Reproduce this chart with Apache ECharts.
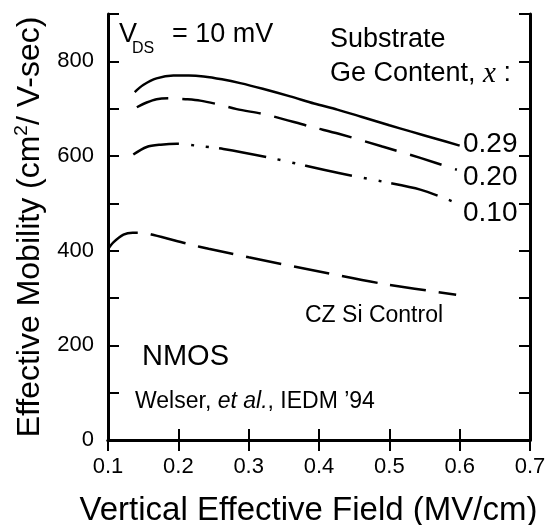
<!DOCTYPE html>
<html>
<head>
<meta charset="utf-8">
<script src="https://cdn.jsdelivr.net/npm/echarts@6/dist/echarts.min.js"></script>
<style>
  html, body { margin: 0; padding: 0; background: #fff; }
  #main { width: 546px; height: 525px; }
</style>
</head>
<body>
<div id="main"></div>
<script>
// tick labels
const xTickLabels = ["0.1", "0.2", "0.3", "0.4", "0.5", "0.6", "0.7"]
const yTickLabels = ["0", "200", "400", "600", "800"]

// x = 0.29 (solid)
const field029 = [0.138, 0.150, 0.169, 0.193, 0.215, 0.236, 0.262, 0.288, 0.320, 0.359, 0.393, 0.426, 0.460, 0.500, 0.530, 0.565, 0.600]
const mob029 = [735, 750, 764, 770, 770, 768, 762, 754, 742, 726, 711, 698, 683, 665, 652, 637, 622]

// x = 0.20 (dashed)
const field020 = [0.141, 0.155, 0.169, 0.188, 0.210, 0.231, 0.257, 0.283, 0.326, 0.388, 0.428, 0.490, 0.544, 0.596]
const mob020 = [703, 713, 720, 722, 720, 717, 709, 699, 687, 662, 647, 620, 596, 571]

// x = 0.10 (dash-dot)
const field010 = [0.136, 0.155, 0.175, 0.198, 0.225, 0.264, 0.331, 0.428, 0.490, 0.544, 0.595]
const mob010 = [603, 619, 624, 626, 622, 615, 596, 564, 546, 529, 501]

// CZ Si control (long dash)
const fieldCz = [0.100, 0.108, 0.122, 0.135, 0.148, 0.165, 0.217, 0.243, 0.300, 0.393, 0.491, 0.595]
const mobCz = [403, 418, 434, 438, 438, 433, 413, 404, 386, 358, 330, 307]

const font = "'Liberation Sans', Arial, sans-serif"
const pair = (xs, ys) => xs.map((x, i) => [x, ys[i]])

const myChart = echarts.init(document.getElementById("main"))

const axisLine = { show: true, lineStyle: { color: "#000", width: 3 } }
const tick = { show: true, inside: true, length: 11, lineStyle: { color: "#000", width: 2 } }

function curve(name, xs, ys, type) {
  return {
    name: name,
    type: "line",
    data: pair(xs, ys),
    smooth: 0.3,
    showSymbol: false,
    lineStyle: { color: "#000", width: 2.5, type: type },
    z: 3
  }
}

function txt(text, x, y, size, rich) {
  return {
    type: "text",
    x: x,
    y: y,
    style: {
      text: text,
      fill: "#000",
      fontFamily: font,
      fontSize: size,
      align: "left",
      verticalAlign: "middle",
      rich: rich
    }
  }
}

myChart.setOption({
  animation: false,
  grid: { left: 108, right: 16, top: 14, bottom: 85, outerBoundsMode: "none" },
  xAxis: [
    {
      type: "value",
      position: "bottom",
      min: 0.1,
      max: 0.7,
      interval: 0.1,
      axisLine: axisLine,
      axisTick: tick,
      splitLine: { show: false },
      axisLabel: {
        color: "#000",
        fontFamily: font,
        fontSize: 22,
        margin: 16,
        formatter: v => xTickLabels.find(s => Math.abs(parseFloat(s) - v) < 1e-6) || ""
      },
      name: "Vertical Effective Field (MV/cm)",
      nameLocation: "middle",
      nameGap: 54,
      nameTextStyle: { color: "#000", fontFamily: font, fontSize: 33, padding: [0, 21, 0, 0] }
    },
    {
      type: "value",
      position: "top",
      min: 0.1,
      max: 0.7,
      interval: 0.1,
      axisLine: axisLine,
      axisTick: tick,
      axisLabel: { show: false },
      splitLine: { show: false }
    }
  ],
  yAxis: [
    {
      type: "value",
      position: "left",
      min: 0,
      max: 900,
      interval: 100,
      axisLine: axisLine,
      axisTick: tick,
      splitLine: { show: false },
      axisLabel: {
        color: "#000",
        fontFamily: font,
        fontSize: 22,
        margin: 14,
        formatter: v => (yTickLabels.indexOf(String(v)) >= 0 ? String(v) : "")
      },
      name: "{a|Effective Mobility (cm}{s|2}{a|/ V-sec)}",
      nameLocation: "middle",
      nameGap: 58,
      nameTextStyle: {
        color: "#000",
        rich: {
          a: { fontFamily: font, fontSize: 32, lineHeight: 36, color: "#000" },
          s: { fontFamily: font, fontSize: 19, lineHeight: 19, verticalAlign: "top", color: "#000" }
        }
      }
    },
    {
      type: "value",
      position: "right",
      min: 0,
      max: 900,
      interval: 100,
      axisLine: axisLine,
      axisTick: tick,
      axisLabel: { show: false },
      splitLine: { show: false }
    }
  ],
  series: [
    curve("0.29", field029, mob029, "solid"),
    curve("0.20", field020, mob020, [33, 14]),
    curve("0.10", field010, mob010, [48, 12, 3, 12, 3, 10]),
    curve("CZ Si Control", fieldCz, mobCz, [36, 13])
  ],
  graphic: [
    txt("V", 119, 35, 27),
    txt("DS", 132, 49, 16),
    txt("= 10 mV", 172, 35, 27),
    txt("Substrate", 330, 40, 27),
    txt("{a|Ge Content, }{i|x}{a| :}", 330, 74, 27, {
      a: { fontFamily: font, fontSize: 27, color: "#000" },
      i: { fontFamily: "'Liberation Serif', serif", fontStyle: "italic", fontSize: 29, color: "#000" }
    }),
    txt("0.29", 463, 144, 28),
    txt("0.20", 463, 177, 28),
    txt("0.10", 463, 213, 28),
    txt("CZ Si Control", 305, 316, 23),
    txt("NMOS", 142, 357, 29),
    txt("{a|Welser, }{i|et al.}{a|, IEDM ’94}", 135, 402, 23, {
      a: { fontFamily: font, fontSize: 23, color: "#000" },
      i: { fontFamily: font, fontStyle: "italic", fontSize: 23, color: "#000" }
    })
  ]
})
</script>
</body>
</html>
